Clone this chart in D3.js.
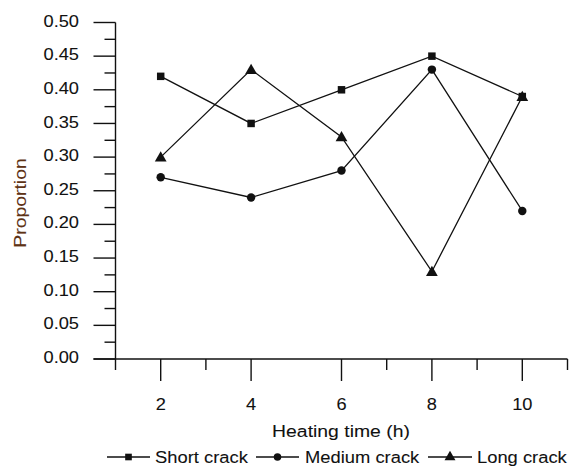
<!DOCTYPE html>
<html>
<head>
<meta charset="utf-8">
<script src="https://cdn.jsdelivr.net/npm/d3@7"></script>
<style>
  html, body { margin: 0; padding: 0; background: #fff; }
  svg { display: block; }
  text { font-family: "Liberation Sans", Arial, sans-serif; }
</style>
</head>
<body>
<svg id="chart" width="569" height="468"></svg>
<script>
// Heating time (h) on the x axis
const hours = [2, 4, 6, 8, 10];
// Crack proportions per heating time
const shortCrack  = [0.42, 0.35, 0.40, 0.45, 0.39];
const mediumCrack = [0.27, 0.24, 0.28, 0.43, 0.22];
const longCrack   = [0.30, 0.43, 0.33, 0.13, 0.39];
const seriesNames = ["Short crack", "Medium crack", "Long crack"];
const yTicks = [0, 0.05, 0.10, 0.15, 0.20, 0.25, 0.30, 0.35, 0.40, 0.45, 0.50];
const xTicks = [2, 4, 6, 8, 10];

const svg = d3.select("#chart");

const x = d3.scaleLinear().domain([1, 11]).range([115.5, 567.5]);
const y = d3.scaleLinear().domain([0, 0.5]).range([359, 22.5]);

const ink = "#111";
const stretch = 1.14;   // wide lettering

function wideText(g, tx, ty, str, opts) {
  return g.append("text")
    .attr("transform", `translate(${tx},${ty})${opts.rotate ? " rotate(" + opts.rotate + ")" : ""} scale(${opts.sx || stretch},1)`)
    .attr("font-size", opts.size)
    .attr("fill", opts.fill || ink)
    .attr("stroke", opts.fill || ink)
    .attr("stroke-width", 0.08)
    .attr("text-anchor", opts.anchor || "start")
    .attr("dominant-baseline", "central")
    .text(str);
}

// ---- Y axis ----
const yAxis = svg.append("g");
yAxis.append("line")
  .attr("x1", x(1)).attr("x2", x(1))
  .attr("y1", y(0.5)).attr("y2", y(0) + 11)
  .attr("stroke", ink).attr("stroke-width", 1.4);
yTicks.forEach(v => {
  yAxis.append("line")
    .attr("x1", x(1) - 22).attr("x2", x(1))
    .attr("y1", y(v)).attr("y2", y(v))
    .attr("stroke", ink).attr("stroke-width", 1.4);
  wideText(yAxis, 79, y(v) - 1.5, d3.format(".2f")(v), {size: 16, anchor: "end"});
});
d3.range(0.025, 0.5, 0.05).forEach(v => {
  yAxis.append("line")
    .attr("x1", x(1) - 11).attr("x2", x(1))
    .attr("y1", y(v)).attr("y2", y(v))
    .attr("stroke", ink).attr("stroke-width", 1.4);
});
wideText(svg, 20, 203, "Proportion", {size: 17, anchor: "middle", rotate: -90, fill: "#5e3316"});

// ---- X axis ----
const xAxis = svg.append("g");
xAxis.append("line")
  .attr("x1", x(1) - 22).attr("x2", x(11))
  .attr("y1", y(0)).attr("y2", y(0))
  .attr("stroke", ink).attr("stroke-width", 1.4);
xTicks.forEach(v => {
  xAxis.append("line")
    .attr("x1", x(v)).attr("x2", x(v))
    .attr("y1", y(0)).attr("y2", y(0) + 22)
    .attr("stroke", ink).attr("stroke-width", 1.4);
  wideText(xAxis, x(v), 404, String(v), {size: 16, anchor: "middle"});
});
[3, 7, 9, 11].forEach(v => {
  xAxis.append("line")
    .attr("x1", x(v)).attr("x2", x(v))
    .attr("y1", y(0)).attr("y2", y(0) + 11)
    .attr("stroke", ink).attr("stroke-width", 1.4);
});
wideText(svg, 341, 431, "Heating time (h)", {size: 17, anchor: "middle"});

// ---- Series ----
const series = [
  {name: seriesNames[2], values: longCrack,   symbol: d3.symbolTriangle, size: 60},
  {name: seriesNames[1], values: mediumCrack, symbol: d3.symbolCircle,   size: 56},
  {name: seriesNames[0], values: shortCrack,  symbol: d3.symbolSquare,   size: 56}
];

const line = d3.line().x(d => x(d[0])).y(d => y(d[1]));
const plot = svg.append("g");
series.forEach(s => {
  const pts = hours.map((h, i) => [h, s.values[i]]);
  plot.append("path")
    .attr("d", line(pts))
    .attr("fill", "none")
    .attr("stroke", ink)
    .attr("stroke-width", 1.3);
});
series.forEach(s => {
  const pts = hours.map((h, i) => [h, s.values[i]]);
  plot.selectAll(null).data(pts).enter().append("path")
    .attr("transform", d => `translate(${x(d[0])},${y(d[1]) + (s.symbol === d3.symbolTriangle ? 1 : 0)})`)
    .attr("d", d3.symbol().type(s.symbol).size(s.size))
    .attr("fill", ink);
});

// ---- Legend ----
const legendItems = [
  {name: seriesNames[0], symbol: d3.symbolSquare,   size: 44, x0: 107, x1: 150, tx: 155},
  {name: seriesNames[1], symbol: d3.symbolCircle,   size: 44, x0: 256, x1: 299, tx: 305},
  {name: seriesNames[2], symbol: d3.symbolTriangle, size: 52, x0: 428, x1: 472, tx: 477}
];
const lg = svg.append("g");
const ly = 457;
legendItems.forEach(it => {
  lg.append("line")
    .attr("x1", it.x0).attr("x2", it.x1)
    .attr("y1", ly).attr("y2", ly)
    .attr("stroke", ink).attr("stroke-width", 1.3);
  lg.append("path")
    .attr("transform", `translate(${(it.x0 + it.x1) / 2},${ly})`)
    .attr("d", d3.symbol().type(it.symbol).size(it.size))
    .attr("fill", ink);
  wideText(lg, it.tx, ly, it.name, {size: 17, sx: 1.08});
});
</script>
</body>
</html>
